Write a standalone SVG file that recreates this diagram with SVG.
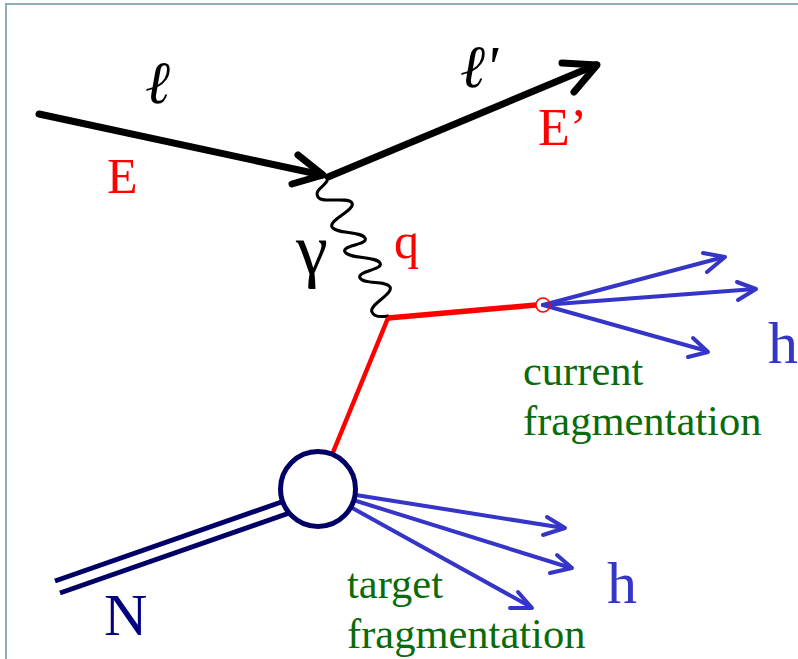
<svg xmlns="http://www.w3.org/2000/svg" width="798" height="659" viewBox="0 0 798 659">
  <style>
    .lep { stroke: #000; stroke-width: 7; fill: none; stroke-linecap: round; stroke-linejoin: round; }
    .had { stroke: #3535c8; stroke-width: 4; fill: none; stroke-linecap: round; stroke-linejoin: round; }
    .quark { stroke: #ff0000; fill: none; }
    .nuc { stroke: #000066; stroke-width: 5; fill: none; }
    .lbl { font-family: "Liberation Serif", "Times New Roman", serif; }
    .red { fill: #ff0000; }
    .green { fill: #0a6b0a; font-size: 42.5px; }
    .blue { fill: #3535c8; font-size: 60px; }
  </style>
  <rect x="6" y="4" width="820" height="700" fill="#ffffff" stroke="#8eadbb" stroke-width="2"/>

  <g id="connectors">
    <g id="lepton-in">
      <line class="lep" x1="39" y1="114" x2="322" y2="175"/>
      <polyline class="lep" points="298,155 323,175 292,184"/>
    </g>
    <g id="lepton-out">
      <line class="lep" x1="328" y1="177" x2="596" y2="65"/>
      <polyline class="lep" points="562,63 597,65 574,92"/>
    </g>
    <g id="photon">
      <path d="M327,181 C324,187 314,190 318,197 C322,204 348,196 352,203 C356,210 328,220 332,227 C336,234 361,231 365,238 C369,245 341,245 345,252 C349,259 376,256 380,263 C384,270 356,271 360,278 C364,285 386,280 390,287 C394,294 368,305 372,312 C374,317 382,317 388,316" fill="none" stroke="#000" stroke-width="3" stroke-linecap="round"/>
    </g>
    <g id="quark">
      <line class="quark" x1="388" y1="318" x2="536" y2="305" stroke-width="5.5"/>
      <line class="quark" x1="388" y1="318" x2="318" y2="489" stroke-width="4.5"/>
    </g>
    <g id="current-hadrons">
      <line class="had" x1="543" y1="305" x2="724" y2="257"/>
      <polyline class="had" points="703,253 725,257 707,272"/>
      <line class="had" x1="543" y1="305" x2="755" y2="289"/>
      <polyline class="had" points="737,282 756,289 738,300"/>
      <line class="had" x1="543" y1="305" x2="707" y2="351"/>
      <polyline class="had" points="693,338 708,352 688,357"/>
    </g>
    <g id="target-hadrons">
      <line class="had" x1="318" y1="489" x2="564" y2="528"/>
      <polyline class="had" points="547,517 565,528 543,535"/>
      <line class="had" x1="318" y1="489" x2="571" y2="568"/>
      <polyline class="had" points="557,555 572,568 550,573"/>
      <line class="had" x1="318" y1="489" x2="531" y2="607"/>
      <polyline class="had" points="518,592 532,608 510,608"/>
    </g>
    <g id="nucleon">
      <line class="nuc" x1="55" y1="581" x2="290" y2="499"/>
      <line class="nuc" x1="60" y1="593" x2="295" y2="511"/>
    </g>
  </g>

  <g id="quark-vertex">
    <circle cx="543" cy="305" r="7" fill="none" stroke="#ff0000" stroke-width="1.6"/>
  </g>
  <g id="nucleon-vertex">
    <circle cx="318" cy="489" r="37.5" fill="#ffffff" stroke="#000066" stroke-width="5"/>
  </g>

  <g id="labels" class="lbl">
    <text x="145" y="103" font-size="60" font-style="italic" fill="#000">ℓ</text>
    <text x="460" y="87" font-size="60" font-style="italic" fill="#000">ℓ'</text>
    <text class="red" x="107" y="193" font-size="50">E</text>
    <text class="red" x="538" y="145" font-size="52">E’</text>
    <text x="296" y="274" font-size="72" fill="#000">γ</text>
    <text class="red" x="394" y="258" font-size="50">q</text>
    <text class="blue" x="768" y="363">h</text>
    <text class="blue" x="607" y="603">h</text>
    <text x="104" y="635" font-size="60" fill="#000080">N</text>
    <text class="green" x="523" y="385">current</text>
    <text class="green" x="523" y="435">fragmentation</text>
    <text class="green" x="347" y="598">target</text>
    <text class="green" x="347" y="648">fragmentation</text>
  </g>
</svg>
